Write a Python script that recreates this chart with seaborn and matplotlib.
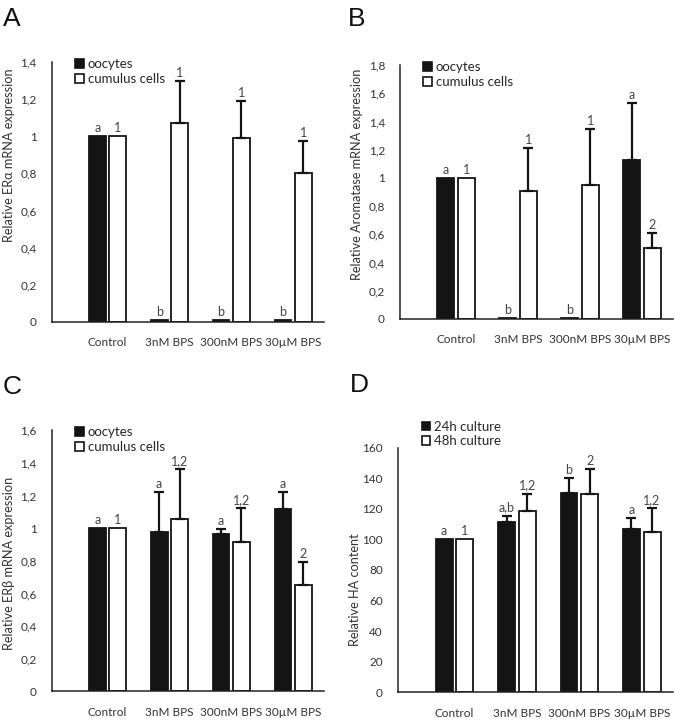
import matplotlib
matplotlib.use("Agg")
import matplotlib.pyplot as plt
from matplotlib.patches import Patch
from matplotlib.ticker import FuncFormatter, MultipleLocator
import numpy as np
import pandas as pd
import seaborn as sns

groups = ['Control', '3nM BPS', '300nM BPS', '30µM BPS']

# A - ERalpha
era_oocytes = [1.0, 0.008, 0.008, 0.008]
era_oocytes_sd = [0, 0, 0, 0]
era_cumulus = [1.0, 1.07, 0.99, 0.80]
era_cumulus_sd = [0, 0.23, 0.20, 0.175]
era_oocytes_lab = ['a', 'b', 'b', 'b']
era_cumulus_lab = ['1', '1', '1', '1']

# B - aromatase
aro_oocytes = [1.0, 0.008, 0.008, 1.13]
aro_oocytes_sd = [0, 0, 0, 0.40]
aro_cumulus = [1.0, 0.91, 0.95, 0.50]
aro_cumulus_sd = [0, 0.30, 0.395, 0.11]
aro_oocytes_lab = ['a', 'b', 'b', 'a']
aro_cumulus_lab = ['1', '1', '1', '2']

# C - ERbeta
erb_oocytes = [1.0, 0.977, 0.966, 1.12]
erb_oocytes_sd = [0, 0.245, 0.027, 0.10]
erb_cumulus = [1.0, 1.056, 0.916, 0.65]
erb_cumulus_sd = [0, 0.305, 0.205, 0.14]
erb_oocytes_lab = ['a', 'a', 'a', 'a']
erb_cumulus_lab = ['1', '1,2', '1,2', '2']

# D - HA content
ha_24h = [100, 111, 130.5, 106.6]
ha_24h_sd = [0, 4.5, 9.5, 7.2]
ha_48h = [100, 118.8, 129.9, 105]
ha_48h_sd = [0, 11, 16.3, 15.3]
ha_24h_lab = ['a', 'a,b', 'b', 'a']
ha_48h_lab = ['1', '1,2', '2', '1,2']

DARK = '#141414'

sns.set_style('white')
plt.rcParams['font.family'] = ['Lato', 'DejaVu Sans']


def comma_fmt(v, pos):
    return ('%g' % round(v, 2)).replace('.', ',')


def panel(ax, names, v1, e1, l1, v2, e2, l2, ymax, step, ylabel, ylab_y, leg_y):
    df = pd.DataFrame({'group': groups * 2,
                       'series': [names[0]] * 4 + [names[1]] * 4,
                       'value': list(v1) + list(v2)})
    sns.barplot(data=df, x='group', y='value', hue='series', order=groups,
                hue_order=names, palette={names[0]: DARK, names[1]: 'white'},
                edgecolor=DARK, linewidth=1.3, width=0.66, gap=0.18,
                errorbar=None, legend=False, ax=ax)
    off = 0.165
    x = np.arange(len(groups))
    for xs, v, e, lab in [(x - off, v1, e1, l1), (x + off, v2, e2, l2)]:
        v = np.array(v, dtype=float)
        e = np.array(e, dtype=float)
        has = e > 0
        if has.any():
            ax.errorbar(xs[has], v[has], yerr=[np.zeros(has.sum()), e[has]],
                        fmt='none', ecolor=DARK, elinewidth=1.6,
                        capsize=3.5, capthick=1.6)
        for xi, top, t in zip(xs, v + e, lab):
            ax.annotate(t, (xi, top), xytext=(0, 1.5), textcoords='offset points',
                        ha='center', va='bottom', fontsize=9, color='#444444')

    ax.set_xlim(-0.9, 3.5)
    ax.set_ylim(0, ymax)
    ax.yaxis.set_major_locator(MultipleLocator(step))
    ax.yaxis.set_major_formatter(FuncFormatter(comma_fmt))
    ax.tick_params(axis='both', length=0, labelsize=8.5, labelcolor='#333333')
    ax.tick_params(axis='y', pad=11)
    ax.tick_params(axis='x', pad=11)
    ax.set_xlabel('')
    ax.set_ylabel(ylabel, fontsize=9.2, color='#333333')
    ax.yaxis.set_label_coords(-0.135, ylab_y)
    for s in ['top', 'right']:
        ax.spines[s].set_visible(False)
    for s in ['left', 'bottom']:
        ax.spines[s].set_color('#222222')
        ax.spines[s].set_linewidth(1.1)

    handles = [Patch(facecolor=DARK, edgecolor=DARK, linewidth=1.2, label=names[0]),
               Patch(facecolor='white', edgecolor=DARK, linewidth=1.2, label=names[1])]
    ax.legend(handles=handles, loc='upper left', bbox_to_anchor=(0.085, leg_y),
              frameon=False, handlelength=0.65, handleheight=0.65,
              handletextpad=0.3, labelspacing=0.2, fontsize=9.5, borderpad=0,
              borderaxespad=0)


fig = plt.figure(figsize=(6.75, 7.23), dpi=100)
axA = fig.add_axes([0.077, 0.555, 0.403, 0.359])
axB = fig.add_axes([0.593, 0.559, 0.404, 0.351])
axC = fig.add_axes([0.077, 0.0436, 0.403, 0.3614])
axD = fig.add_axes([0.590, 0.0425, 0.407, 0.3385])

cells = ['oocytes', 'cumulus cells']
panel(axA, cells, era_oocytes, era_oocytes_sd, era_oocytes_lab,
      era_cumulus, era_cumulus_sd, era_cumulus_lab,
      1.4, 0.2, 'Relative ERα mRNA expression', 0.64, 1.015)
panel(axB, cells, aro_oocytes, aro_oocytes_sd, aro_oocytes_lab,
      aro_cumulus, aro_cumulus_sd, aro_cumulus_lab,
      1.8, 0.2, 'Relative Aromatase mRNA expression', 0.57, 1.015)
panel(axC, cells, erb_oocytes, erb_oocytes_sd, erb_oocytes_lab,
      erb_cumulus, erb_cumulus_sd, erb_cumulus_lab,
      1.6, 0.2, 'Relative ERβ mRNA expression', 0.49, 1.015)
panel(axD, ['24h culture', '48h culture'], ha_24h, ha_24h_sd, ha_24h_lab,
      ha_48h, ha_48h_sd, ha_48h_lab,
      160, 20, 'Relative HA content', 0.42, 1.11)

for x, y, t in [(0.004, 0.99, 'A'), (0.516, 0.99, 'B'),
                (0.004, 0.482, 'C'), (0.519, 0.484, 'D')]:
    fig.text(x, y, t, va='top', ha='left', fontsize=19,
             family='Liberation Sans', color='#111111')

fig.savefig('out.png', dpi=100, facecolor='white')
